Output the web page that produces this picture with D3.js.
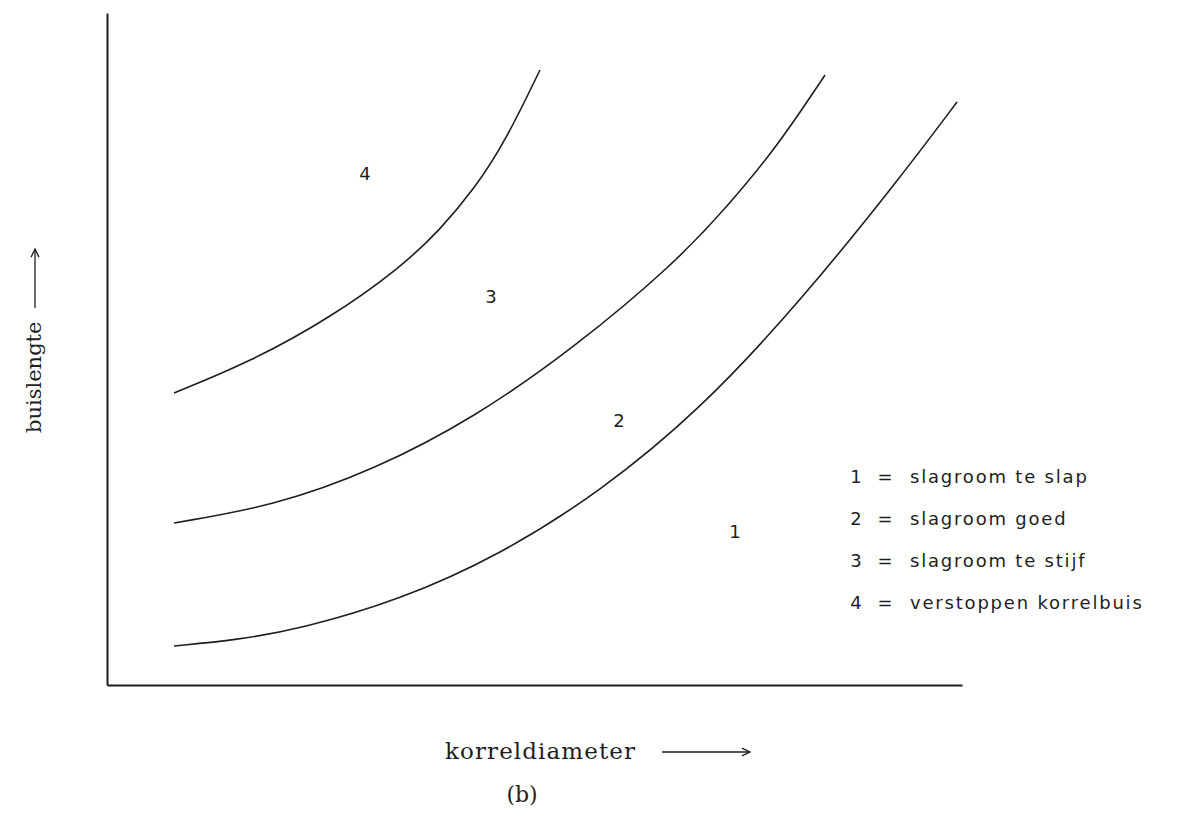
<!DOCTYPE html>
<html>
<head>
<meta charset="utf-8">
<script src="https://cdn.jsdelivr.net/npm/d3@7"></script>
<style>
  html, body { margin: 0; padding: 0; background: #fff; }
  svg { display: block; }
</style>
</head>
<body>
<svg id="chart" width="1196" height="831"></svg>
<script>
// Boundary curves between the regions, in relative units (korreldiameter, buislengte)
const curveStijfVerstopt = [[7.84,43.45],[16.73,48.07],[26.08,54.61],[34.27,62.05],[38.95,67.71],[43.04,73.96],[46.55,80.80],[50.64,91.52]];
const curveGoedStijf = [[7.84,24.11],[19.53,26.64],[31.23,31.99],[42.92,39.73],[54.62,50.15],[66.32,62.65],[72.51,71.13],[78.36,80.06],[83.98,90.77]];
const curveSlapGoed = [[7.84,5.80],[15.20,6.70],[22.57,8.33],[34.27,12.65],[45.96,19.35],[57.66,28.72],[69.36,40.92],[81.05,56.99],[92.75,75.45],[99.42,86.76]];

// Region numbers and where they sit inside the plot
const regionIds = ["4", "3", "2", "1"];
const regionAnchors = [[30.18,76.19],[44.91,57.74],[59.88,39.43],[73.45,22.77]];

// Legend
const legendIds = ["1", "2", "3", "4"];
const legendTexts = ["slagroom te slap", "slagroom goed", "slagroom te stijf", "verstoppen korrelbuis"];

const xTitle = "korreldiameter";
const yTitle = "buislengte";
const caption = "(b)";

const svg = d3.select("#chart");
const ink = "#1e1e1e";

const x = d3.scaleLinear().domain([0, 100]).range([107, 962]);
const y = d3.scaleLinear().domain([0, 100]).range([685, 13]);

// Axes: plain lines, no ticks
const xAxis = d3.axisBottom(x).tickValues([]).tickSizeOuter(0);
const yAxis = d3.axisLeft(y).tickValues([]).tickSizeOuter(0);
svg.append("g").attr("transform", `translate(0,${y(0)})`).call(xAxis)
  .select(".domain").attr("stroke", ink).attr("stroke-width", 2);
svg.append("g").attr("transform", `translate(${x(0)},0)`).call(yAxis)
  .select(".domain").attr("stroke", ink).attr("stroke-width", 2);

// Boundary curves, smoothed through the read-off points
const line = d3.line().x(d => x(d[0])).y(d => y(d[1])).curve(d3.curveBasis);
svg.append("g").selectAll("path")
  .data([curveStijfVerstopt, curveGoedStijf, curveSlapGoed])
  .join("path")
  .attr("d", line)
  .attr("fill", "none")
  .attr("stroke", ink)
  .attr("stroke-width", 1.6);

// Region numbers
const plotterFont = "'DejaVu Sans', sans-serif";
svg.append("g").selectAll("text")
  .data(regionIds)
  .join("text")
  .attr("x", (d, i) => x(regionAnchors[i][0]))
  .attr("y", (d, i) => y(regionAnchors[i][1]))
  .attr("text-anchor", "middle")
  .attr("dominant-baseline", "central")
  .attr("font-family", plotterFont)
  .attr("font-size", 18)
  .attr("fill", ink)
  .text(d => d);

// Legend rows
const legend = svg.append("g").attr("font-family", plotterFont).attr("font-size", 18).attr("fill", ink);
const rows = legend.selectAll("g")
  .data(legendIds)
  .join("g")
  .attr("transform", (d, i) => `translate(856,${476 + i * 42})`);
rows.append("text").attr("x", 0).attr("dominant-baseline", "central").attr("text-anchor", "middle").text(d => d);
rows.append("text").attr("x", 29).attr("dominant-baseline", "central").attr("text-anchor", "middle").text("=");
rows.append("text").attr("x", 54).attr("dominant-baseline", "central")
  .attr("letter-spacing", 1.8)
  .text((d, i) => legendTexts[i]);

// Axis titles with arrows
const serif = "'DejaVu Serif', serif";
svg.append("text")
  .attr("x", 445).attr("y", 759)
  .attr("font-family", serif).attr("font-size", 23).attr("fill", ink)
  .attr("textLength", 190)
  .text(xTitle);

const arrow = (x1, y1, x2, y2) => {
  const g = svg.append("g").attr("stroke", ink).attr("stroke-width", 1.3).attr("fill", "none");
  g.append("line").attr("x1", x1).attr("y1", y1).attr("x2", x2).attr("y2", y2);
  const a = Math.atan2(y2 - y1, x2 - x1), L = 9, w = 0.45;
  g.append("polyline").attr("points", [
    [x2 - L * Math.cos(a - w), y2 - L * Math.sin(a - w)],
    [x2, y2],
    [x2 - L * Math.cos(a + w), y2 - L * Math.sin(a + w)]
  ].map(p => p.join(",")).join(" "));
};
arrow(662, 752, 750, 752);

svg.append("text")
  .attr("transform", "translate(41,433) rotate(-90)")
  .attr("font-family", serif).attr("font-size", 21).attr("fill", ink)
  .text(yTitle);
arrow(35, 308, 35, 249);

svg.append("text")
  .attr("x", 522).attr("y", 802)
  .attr("text-anchor", "middle")
  .attr("font-family", serif).attr("font-size", 22).attr("fill", ink)
  .text(caption);
</script>
</body>
</html>
